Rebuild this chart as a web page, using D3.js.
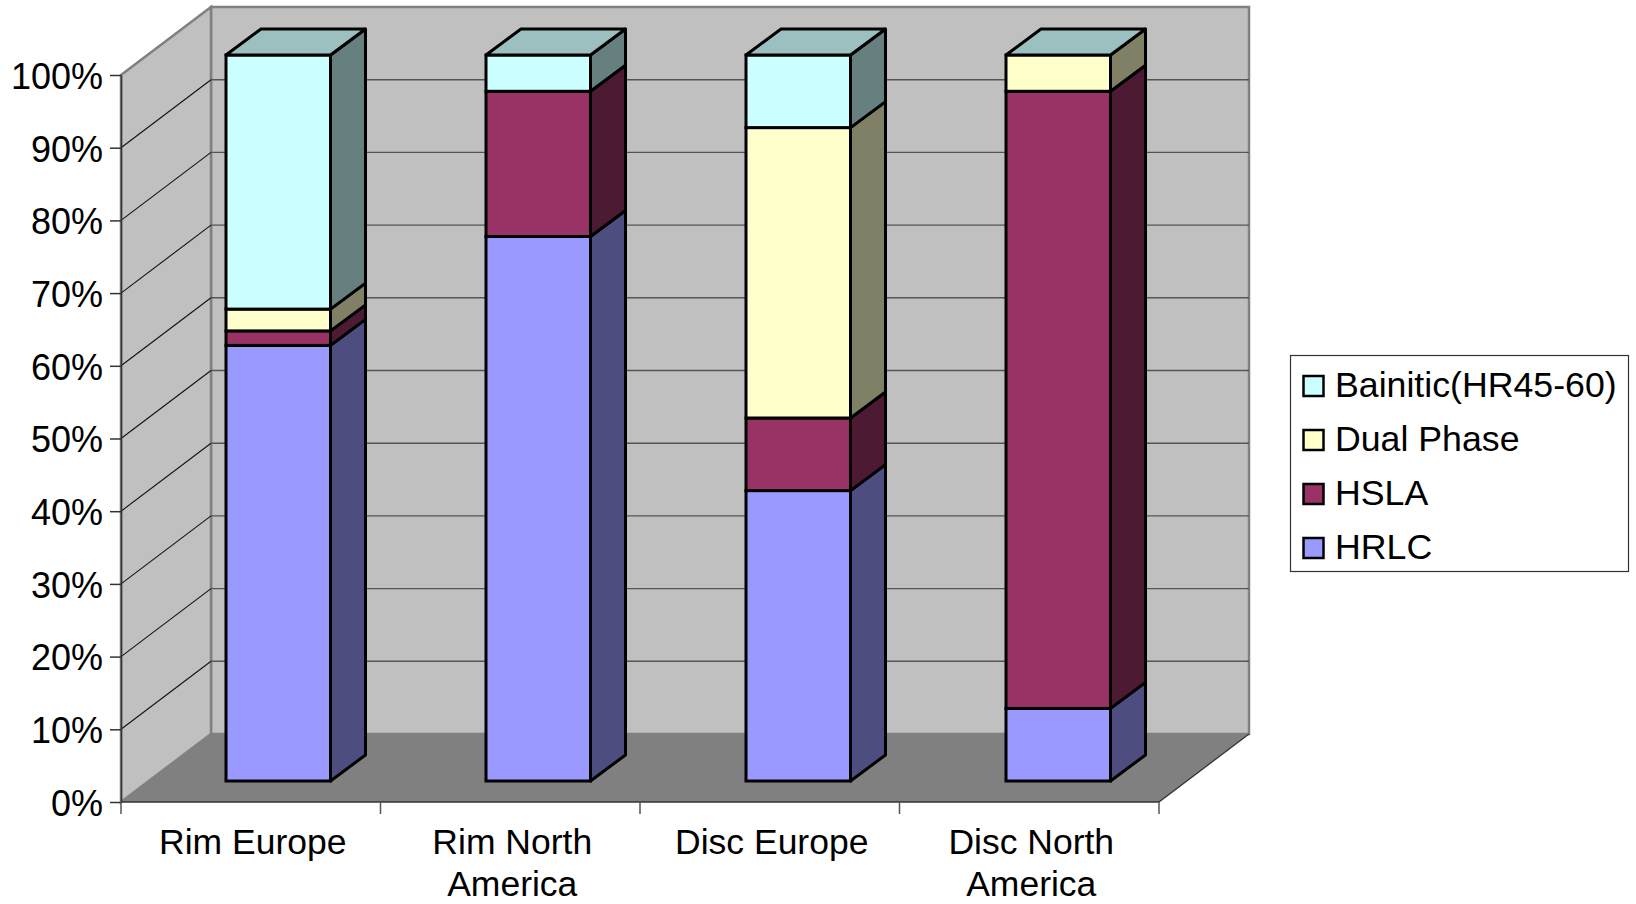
<!DOCTYPE html>
<html>
<head>
<meta charset="utf-8">
<script src="https://cdn.jsdelivr.net/npm/d3@7"></script>
<style>
  html, body { margin: 0; padding: 0; background: #fff; }
  svg { display: block; }
  text { font-family: "Liberation Sans", Arial, sans-serif; fill: #000; }
</style>
</head>
<body>
<svg id="chart" width="1636" height="904"></svg>
<script>
// Steel grade share by application and region (percent, stacked bottom to top)
const categories = [["Rim Europe"], ["Rim North", "America"], ["Disc Europe"], ["Disc North", "America"]];
const seriesNames = ["HRLC", "HSLA", "Dual Phase", "Bainitic(HR45-60)"];
const hrlc = [60, 75, 40, 10];
const hsla = [2, 20, 10, 85];
const dualPhase = [3, 0, 40, 5];
const bainitic = [35, 5, 10, 0];
const tickValues = [0, 10, 20, 30, 40, 50, 60, 70, 80, 90, 100];

const frontColors = ["#9999FF", "#993366", "#FFFFCC", "#CCFFFF"];
const sideColors = ["#4D4D80", "#4D1A33", "#808066", "#668080"];
const capColor = "#9CC0BF";

const svg = d3.select("#chart");
const W = { left: 121, right: 1159, front: 802, top: 75, dx: 90, dy: 68 };
const BAR = { left: 226, step: 260, width: 104.5, dx: 35, dy: 26 };

const y = d3.scaleLinear().domain([0, 100]).range([W.front, W.top]);
const x = d3.scaleBand().domain(d3.range(categories.length)).range([W.left, W.right]);
// Columns stand part-way into the floor, so they get their own scales
const barX = d3.scaleLinear().domain([0, 1]).range([BAR.left, BAR.left + BAR.step]);
const barY = d3.scaleLinear().domain([0, 100]).range([781, 55]);
const poly = pts => pts.map(p => p.join(",")).join(" ");

// Box frame: back wall, side wall and floor
const backTop = y(100) - W.dy, backBottom = W.front - W.dy;
svg.append("polygon")
  .attr("points", poly([[W.left + W.dx, backTop], [W.right + W.dx, backTop], [W.right + W.dx, backBottom], [W.left + W.dx, backBottom]]))
  .attr("fill", "#C0C0C0").attr("stroke", "#808080").attr("stroke-width", 2.5);
svg.append("polygon")
  .attr("points", poly([[W.left, y(100)], [W.left + W.dx, backTop], [W.left + W.dx, backBottom], [W.left, W.front]]))
  .attr("fill", "#C0C0C0").attr("stroke", "#808080").attr("stroke-width", 2.5);
svg.append("polygon")
  .attr("points", poly([[W.left, W.front], [W.left + W.dx, backBottom], [W.right + W.dx, backBottom], [W.right, W.front]]))
  .attr("fill", "#808080");
svg.append("line")
  .attr("x1", W.right).attr("y1", W.front).attr("x2", W.right + W.dx).attr("y2", backBottom)
  .attr("stroke", "#333").attr("stroke-width", 1.3);

// Gridlines run across the side wall, then along the back wall
const inner = tickValues.filter(t => t > 0 && t < 100);
svg.append("g").selectAll("line").data(inner).join("line")
  .attr("x1", W.left).attr("x2", W.left + W.dx)
  .attr("y1", d => y(d)).attr("y2", d => y(d) - W.dy)
  .attr("stroke", "#111").attr("stroke-width", 1.1);
svg.append("g").selectAll("line").data(inner).join("line")
  .attr("x1", W.left + W.dx).attr("x2", W.right + W.dx)
  .attr("y1", d => y(d) - W.dy).attr("y2", d => y(d) - W.dy)
  .attr("stroke", "#555").attr("stroke-width", 1.4);

// Value axis
const yAxis = svg.append("g").attr("transform", `translate(${W.left},0)`)
  .call(d3.axisLeft(y).tickValues(tickValues).tickFormat(d => d + "%").tickSize(11).tickSizeOuter(0));
yAxis.selectAll("path, line").attr("stroke", "#333").attr("stroke-width", 1.5);
yAxis.selectAll("text").attr("x", -18).attr("dy", "0.37em").style("font-size", "36px").style("font-family", '"Liberation Sans", Arial, sans-serif');

// Category axis: ticks sit on the band edges, labels wrap onto two lines
svg.append("line").attr("x1", W.left).attr("x2", W.right).attr("y1", W.front).attr("y2", W.front)
  .attr("stroke", "#333").attr("stroke-width", 1.5);
svg.append("g").selectAll("line").data(d3.range(categories.length + 1)).join("line")
  .attr("x1", d => W.left + d * x.step()).attr("x2", d => W.left + d * x.step())
  .attr("y1", W.front).attr("y2", W.front + 12)
  .attr("stroke", "#555").attr("stroke-width", 1.5);
const catLabels = svg.append("g").selectAll("text").data(categories).join("text")
  .attr("text-anchor", "middle").style("font-size", "35.5px");
catLabels.selectAll("tspan").data((d, i) => d.map(s => ({ s, i }))).join("tspan")
  .attr("x", d => x(d.i) + x.bandwidth() / 2 + 2)
  .attr("y", (d, j) => 854 + j * 42)
  .text(d => d.s);

// Stacked 3D columns
const series = [hrlc, hsla, dualPhase, bainitic];
categories.forEach((c, i) => {
  const g = svg.append("g");
  const x0 = barX(i), x1 = x0 + BAR.width;
  let base = 0;
  series.forEach((vals, s) => {
    const top = base + vals[i];
    if (vals[i] > 0) {
      g.append("rect").attr("x", x0).attr("y", barY(top)).attr("width", BAR.width).attr("height", barY(base) - barY(top))
        .attr("fill", frontColors[s]).attr("stroke", "#000").attr("stroke-width", 3);
      g.append("polygon")
        .attr("points", poly([[x1, barY(base)], [x1 + BAR.dx, barY(base) - BAR.dy], [x1 + BAR.dx, barY(top) - BAR.dy], [x1, barY(top)]]))
        .attr("fill", sideColors[s]).attr("stroke", "#000").attr("stroke-width", 3).attr("stroke-linejoin", "round");
    }
    base = top;
  });
  // Every column ends in the same cap colour, even when the top series is zero
  g.append("polygon")
    .attr("points", poly([[x0, barY(base)], [x0 + BAR.dx, barY(base) - BAR.dy], [x1 + BAR.dx, barY(base) - BAR.dy], [x1, barY(base)]]))
    .attr("fill", capColor).attr("stroke", "#000").attr("stroke-width", 3).attr("stroke-linejoin", "round");
});

// Legend lists the stack from top to bottom
const legend = svg.append("g");
legend.append("rect").attr("x", 1290.5).attr("y", 355.5).attr("width", 338).attr("height", 216)
  .attr("fill", "#fff").attr("stroke", "#333").attr("stroke-width", 1.2);
const legendY = d3.scalePoint().domain([3, 2, 1, 0]).range([384, 546]);
const items = legend.selectAll("g").data([3, 2, 1, 0]).join("g")
  .attr("transform", d => `translate(0,${legendY(d)})`);
items.append("rect").attr("x", 1303.5).attr("y", -8).attr("width", 20).attr("height", 20)
  .attr("fill", d => frontColors[d]).attr("stroke", "#000").attr("stroke-width", 2.5);
items.append("text").attr("x", 1335).attr("dy", "0.35em").style("font-size", "35.7px").text(d => seriesNames[d]);
</script>
</body>
</html>
